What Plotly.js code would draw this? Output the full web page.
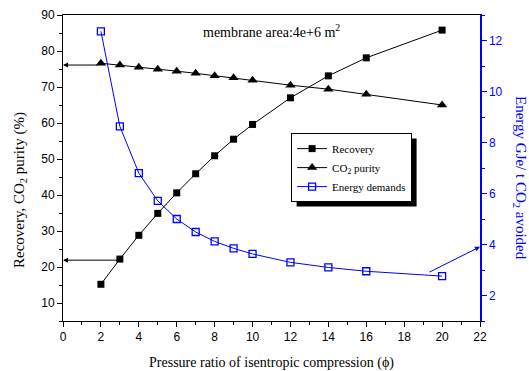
<!DOCTYPE html>
<html>
<head>
<meta charset="utf-8">
<script src="https://cdn.plot.ly/plotly-3.0.1.min.js"></script>
<style>html,body{margin:0;padding:0;background:#fff;}#chart{width:529px;height:371px;}</style>
</head>
<body>
<div id="chart"></div>
<script>
// Data
const pressureRatio = [2, 3, 4, 5, 6, 7, 8, 9, 10, 12, 14, 16, 20];
const recovery      = [15.2, 22.2, 28.8, 34.9, 40.6, 45.9, 50.9, 55.5, 59.6, 67.0, 73.1, 78.1, 85.8];
const co2Purity     = [76.6, 76.1, 75.5, 74.9, 74.4, 73.8, 73.1, 72.6, 71.9, 70.5, 69.4, 68.0, 65.0];
const energyDemand  = [12.36, 8.63, 6.80, 5.71, 5.00, 4.49, 4.12, 3.85, 3.63, 3.30, 3.10, 2.95, 2.76];
const seriesNames   = ['Recovery', 'CO<sub>2</sub> purity', 'Energy demands'];

const serif = 'Liberation Serif, Times New Roman, serif';
const sans = 'Liberation Sans, Arial, sans-serif';
const blue = '#0000ff';

const traces = [
  {x: pressureRatio, y: recovery, name: seriesNames[0], type: 'scatter', mode: 'lines+markers',
   line: {color: '#000', width: 1}, marker: {symbol: 'square', size: 7, color: '#000'}},
  {x: pressureRatio, y: co2Purity, name: seriesNames[1], type: 'scatter', mode: 'lines+markers',
   line: {color: '#000', width: 1}, marker: {symbol: 'triangle-up', size: 9, color: '#000'}},
  {x: pressureRatio, y: energyDemand, name: seriesNames[2], type: 'scatter', mode: 'lines+markers', yaxis: 'y2',
   line: {color: blue, width: 1}, marker: {symbol: 'square-open', size: 7, color: blue, line: {width: 1.3, color: blue}}}
];

const M = {l: 63, r: 49, t: 15, b: 50};
const W = 529, H = 371;
const PW = W - M.l - M.r, PH = H - M.t - M.b;

const layout = {
  width: W, height: H,
  margin: M,
  paper_bgcolor: '#fff', plot_bgcolor: '#fff',
  showlegend: true,
  legend: {x: 0.547, y: 0.614, xanchor: 'left', yanchor: 'top', bgcolor: '#fff',
           bordercolor: '#000', borderwidth: 1, font: {family: serif, size: 11, color: '#000'},
           tracegroupgap: 0, itemwidth: 30},
  xaxis: {range: [0, 22], dtick: 2, tick0: 0, ticks: 'outside', ticklen: 5, tickwidth: 1, tickcolor: '#000',
          showline: true, linecolor: '#000', linewidth: 1, mirror: true, showgrid: false, zeroline: false,
          tickfont: {family: sans, size: 12, color: '#000'},
          minor: {dtick: 1, ticks: 'outside', ticklen: 3, tickcolor: '#000', showgrid: false},
          title: {text: 'Pressure ratio of isentropic compression (ϕ)', font: {family: serif, size: 14, color: '#000'}, standoff: 15}},
  xaxis2: {overlaying: 'x', side: 'top', range: [0, 22], dtick: 1, ticks: 'outside', ticklen: 2, tickcolor: '#aaa',
           showticklabels: false, showline: false, showgrid: false, zeroline: false, anchor: 'y'},
  yaxis: {range: [5, 90], dtick: 10, tick0: 0, ticks: 'outside', ticklen: 5, tickwidth: 1, tickcolor: '#000',
          showline: true, linecolor: '#000', linewidth: 1, showgrid: false, zeroline: false,
          tickfont: {family: sans, size: 12, color: '#000'},
          minor: {dtick: 5, ticks: 'outside', ticklen: 3, tickcolor: '#000', showgrid: false}},
  yaxis2: {overlaying: 'y', side: 'right', range: [1, 13], dtick: 2, tick0: 0, ticks: 'outside', ticklen: 5,
           tickwidth: 1, tickcolor: blue, showline: true, linecolor: blue, linewidth: 1.5, showgrid: false, zeroline: false,
           tickfont: {family: sans, size: 12, color: blue},
           minor: {dtick: 1, ticks: 'outside', ticklen: 3, tickcolor: blue, showgrid: false}},
  shapes: [],
  annotations: [
    {xref: 'paper', yref: 'paper', x: (271 - M.l) / PW, y: (H - M.b - 31) / PH, xanchor: 'center', yanchor: 'middle',
     text: 'membrane area:4e+6 m<sup>2</sup>', showarrow: false,
     font: {family: serif, size: 14, color: '#000'}},
    {xref: 'paper', yref: 'paper', x: (20 - M.l) / PW, y: (H - M.b - 190) / PH, xanchor: 'center', yanchor: 'middle',
     text: 'Recovery, CO<sub>2</sub> purity (%)', showarrow: false,
     textangle: -90, font: {family: serif, size: 15, color: '#000'}},
    {xref: 'paper', yref: 'paper', x: (520 - M.l) / PW, y: (H - M.b - 178) / PH, xanchor: 'center', yanchor: 'middle',
     text: 'Energy GJe/ t CO<sub>2</sub> avoided', showarrow: false,
     textangle: 90, font: {family: serif, size: 15, color: blue}},
    {xref: 'x', yref: 'y', x: 0, y: 76.1, axref: 'x', ayref: 'y', ax: 1.9, ay: 76.1, showarrow: true,
     arrowhead: 2, arrowsize: 1, arrowwidth: 1, arrowcolor: '#000', text: ''},
    {xref: 'x', yref: 'y', x: 0, y: 21.9, axref: 'x', ayref: 'y', ax: 3, ay: 21.9, showarrow: true,
     arrowhead: 2, arrowsize: 1, arrowwidth: 1, arrowcolor: '#000', text: ''},
    {xref: 'x', yref: 'y2', x: 22, y: 3.91, axref: 'x', ayref: 'y2', ax: 19.26, ay: 2.89, showarrow: true,
     arrowhead: 2, arrowsize: 1, arrowwidth: 1, arrowcolor: blue, text: ''}
  ]
};

Plotly.newPlot('chart', traces, layout, {staticPlot: true, displayModeBar: false}).then(function (gd) {
  // drop shadow behind the legend box, sized from the legend actually drawn
  const bg = gd.querySelector('.legend .bg');
  if (!bg) return;
  const r = bg.getBoundingClientRect();
  const c = gd.getBoundingClientRect();
  const x0 = r.left - c.left + 5, x1 = r.right - c.left + 5;
  const y0 = r.top - c.top + 5, y1 = r.bottom - c.top + 5;
  return Plotly.relayout(gd, {shapes: [{
    type: 'rect', xref: 'paper', yref: 'paper', layer: 'above',
    x0: (x0 - M.l) / PW, x1: (x1 - M.l) / PW,
    y0: (H - M.b - y1) / PH, y1: (H - M.b - y0) / PH,
    fillcolor: '#000', line: {width: 0}
  }]});
});
</script>
</body>
</html>
